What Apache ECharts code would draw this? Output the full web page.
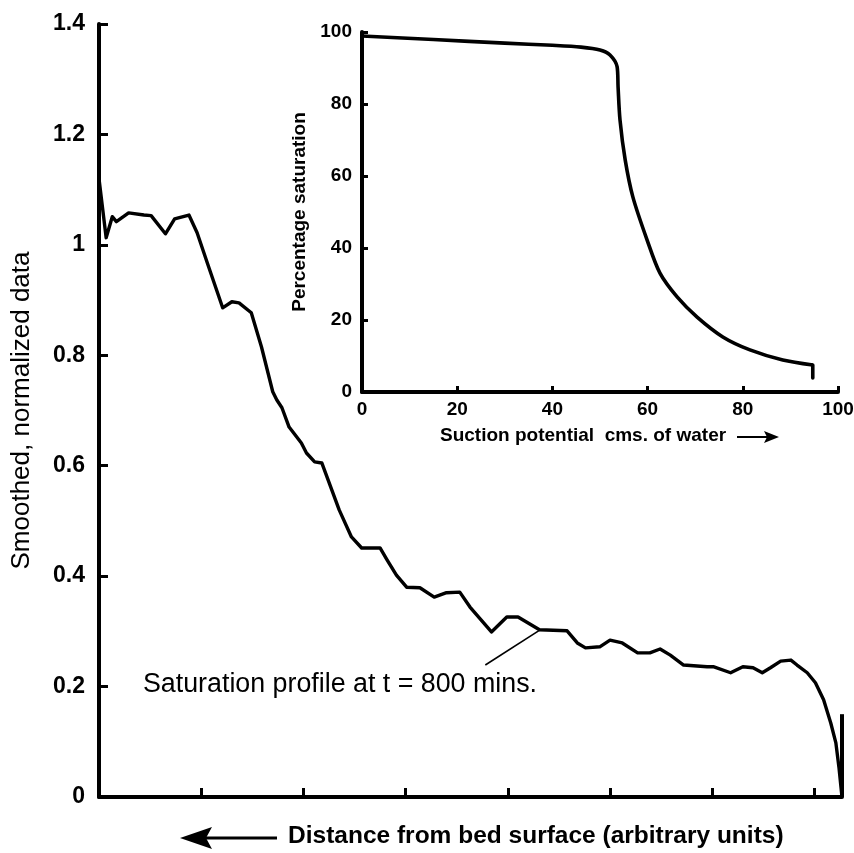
<!DOCTYPE html>
<html><head><meta charset="utf-8">
<script src="https://cdn.jsdelivr.net/npm/echarts@6/dist/echarts.min.js"></script>
<style>html,body{margin:0;padding:0;background:#fff}#c{width:854px;height:853px}</style>
</head><body><div id="c"></div>
<script>
// Main chart: saturation profile at t = 800 mins
const profileDistance = [0,0.07,0.13,0.17,0.29,0.44,0.51,0.65,0.74,0.88,0.96,1.06,1.21,1.30,1.37,1.49,1.59,1.70,1.74,1.79,1.86,1.98,2.03,2.11,2.18,2.35,2.47,2.57,2.75,2.82,2.91,3.01,3.14,3.28,3.40,3.53,3.63,3.84,3.99,4.10,4.31,4.58,4.68,4.76,4.90,5.00,5.12,5.27,5.39,5.49,5.59,5.72,5.95,6.01,6.18,6.30,6.40,6.49,6.57,6.67,6.77,6.83,6.93,7.01,7.09,7.16,7.21,7.24,7.26,7.27];
const profileValue = [1.12,1.013,1.051,1.042,1.058,1.054,1.053,1.020,1.047,1.054,1.022,0.967,0.886,0.897,0.895,0.877,0.815,0.734,0.719,0.705,0.670,0.641,0.623,0.607,0.605,0.520,0.471,0.451,0.451,0.429,0.402,0.380,0.379,0.362,0.370,0.371,0.344,0.299,0.326,0.326,0.303,0.301,0.279,0.270,0.272,0.284,0.279,0.261,0.261,0.268,0.257,0.239,0.236,0.236,0.225,0.236,0.234,0.225,0.234,0.246,0.248,0.239,0.225,0.207,0.176,0.134,0.098,0.054,0.018,0];
const endBarX = [7.27, 7.27];
const endBarY = [0, 0.15];
const leaderX = [3.78, 4.32];
const leaderY = [0.239, 0.303];
const mainYTicks = [0, 0.2, 0.4, 0.6, 0.8, 1, 1.2, 1.4];

// Inset: percentage saturation vs suction potential
const suction = [0,15,30,40,46,50,52.1,53.6,53.8,54.2,55.3,56.9,59.9,62.6,66.2,70.4,75.8,81.5,88.4,94.7];
const saturation = [98.9,97.9,96.9,96.3,95.8,95,93.6,90.3,84.7,75.6,64.4,54.2,42.2,33,26.4,20.8,15.3,11.7,8.9,7.5];
const insetEndX = [94.7, 94.7];
const insetEndY = [7.5, 3.9];
const insetTicks = [0, 20, 40, 60, 80, 100];

const FONT = '"Liberation Sans", Arial, Helvetica, sans-serif';
const zip = (a, b) => a.map((v, i) => [v, b[i]]);

const chart = echarts.init(document.getElementById('c'), null, {renderer: 'canvas'});
const black = '#000';

chart.setOption({
  backgroundColor: '#fff',
  animation: false,
  textStyle: {fontFamily: FONT, color: black},
  grid: [
    {left: 99, right: 12, top: 24, bottom: 56, outerBoundsMode: 'none', containLabel: false},
    {left: 362, right: 16, top: 32, bottom: 461, outerBoundsMode: 'none', containLabel: false}
  ],
  xAxis: [
    {gridIndex: 0, type: 'value', min: 0, max: 7.27, interval: 1,
     axisLine: {lineStyle: {color: black, width: 4}},
     axisTick: {inside: true, length: 9, lineStyle: {color: black, width: 3}},
     axisLabel: {show: false}, splitLine: {show: false}},
    {gridIndex: 1, type: 'value', min: insetTicks[0], max: insetTicks[insetTicks.length-1], interval: 20,
     axisLine: {lineStyle: {color: black, width: 4}},
     axisTick: {inside: true, length: 6, lineStyle: {color: black, width: 3}},
     axisLabel: {color: black, fontFamily: FONT, fontWeight: 'bold', fontSize: 19, margin: 8},
     splitLine: {show: false}}
  ],
  yAxis: [
    {gridIndex: 0, type: 'value', min: mainYTicks[0], max: mainYTicks[mainYTicks.length-1], interval: 0.2,
     name: 'Smoothed, normalized data', nameLocation: 'middle', nameGap: 64,
     nameTextStyle: {fontFamily: FONT, fontSize: 26, color: black},
     axisLine: {show: true, lineStyle: {color: black, width: 4}},
     axisTick: {show: true, inside: true, length: 9, lineStyle: {color: black, width: 3}},
     axisLabel: {color: black, fontFamily: FONT, fontWeight: 'bold', fontSize: 23, margin: 14},
     splitLine: {show: false}},
    {gridIndex: 1, type: 'value', min: 0, max: 100, interval: 20,
     name: 'Percentage saturation', nameLocation: 'middle', nameGap: 46,
     nameTextStyle: {fontFamily: FONT, fontSize: 19, fontWeight: 'bold', color: black},
     axisLine: {show: true, lineStyle: {color: black, width: 4}},
     axisTick: {show: true, inside: true, length: 6, lineStyle: {color: black, width: 3}},
     axisLabel: {color: black, fontFamily: FONT, fontWeight: 'bold', fontSize: 19, margin: 10},
     splitLine: {show: false}}
  ],
  series: [
    {type: 'line', xAxisIndex: 0, yAxisIndex: 0, data: zip(profileDistance, profileValue),
     showSymbol: false, lineStyle: {color: black, width: 3.4, join: 'round'}, silent: true},
    {type: 'line', xAxisIndex: 0, yAxisIndex: 0, data: zip(endBarX, endBarY),
     showSymbol: false, lineStyle: {color: black, width: 4}, silent: true},
    {type: 'line', xAxisIndex: 0, yAxisIndex: 0, data: zip(leaderX, leaderY),
     showSymbol: false, lineStyle: {color: black, width: 1.6}, silent: true},
    {type: 'line', xAxisIndex: 1, yAxisIndex: 1, data: zip(suction, saturation),
     showSymbol: false, smooth: 0.3, lineStyle: {color: black, width: 3.6, join: 'round'}, silent: true},
    {type: 'line', xAxisIndex: 1, yAxisIndex: 1, data: zip(insetEndX, insetEndY),
     showSymbol: false, lineStyle: {color: black, width: 3.6, cap: 'round'}, silent: true}
  ],
  graphic: [
    {type: 'text', left: 143, top: 671, style: {text: 'Saturation profile at t = 800 mins.', font: '26.8px ' + FONT, fill: black}},
    {type: 'text', left: 288, top: 824, style: {text: 'Distance from bed surface (arbitrary units)', font: 'bold 24.5px ' + FONT, fill: black}},
    {type: 'line', shape: {x1: 205, y1: 838, x2: 277, y2: 838}, style: {stroke: black, lineWidth: 3}},
    {type: 'polygon', shape: {points: [[180, 838], [212, 827], [206, 838], [212, 849]]}, style: {fill: black}},
    {type: 'text', left: 440, top: 426, style: {text: 'Suction potential  cms. of water', font: 'bold 19px ' + FONT, fill: black}},
    {type: 'line', shape: {x1: 737, y1: 437, x2: 768, y2: 437}, style: {stroke: black, lineWidth: 2}},
    {type: 'polygon', shape: {points: [[779, 437], [764, 431], [767, 437], [764, 443]]}, style: {fill: black}}
  ]
});
</script>
</body></html>
